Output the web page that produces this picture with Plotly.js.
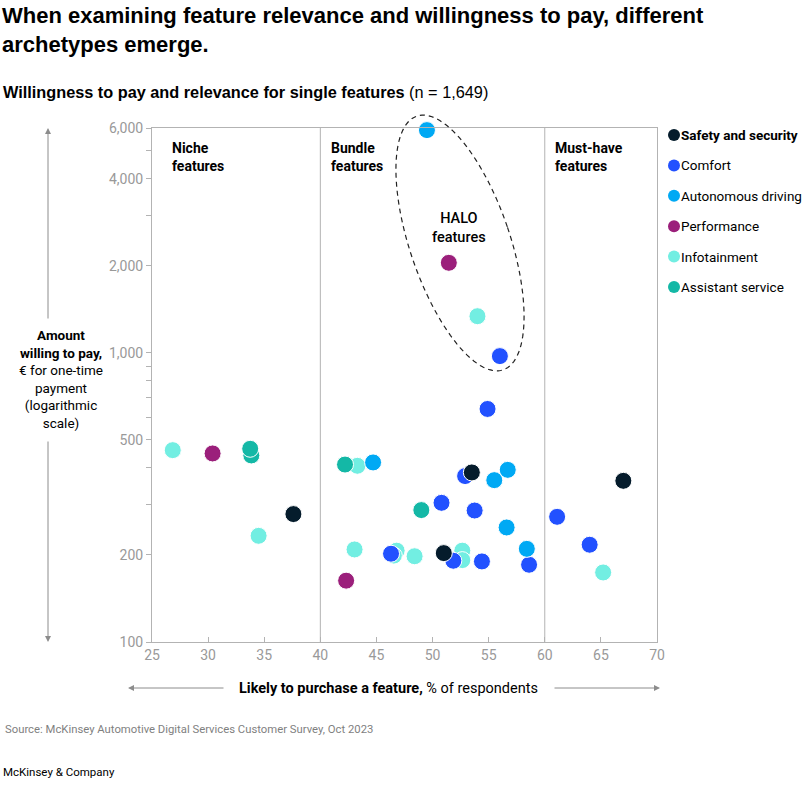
<!DOCTYPE html>
<html>
<head>
<meta charset="utf-8">
<script src="https://cdn.plot.ly/plotly-3.0.1.min.js"></script>
<style>
html,body{margin:0;padding:0;background:#fff;}
#chart{width:810px;height:790px;}
</style>
</head>
<body>
<div id="chart"></div>
<script>
// ---------- DATA ----------
const categories = ['Safety and security','Comfort','Autonomous driving','Performance','Infotainment','Assistant service'];
const colors = ['#051c2c','#2251ff','#00a9f4','#9b1f7b','#72eee2','#14b8a6'];

const safetyX = [37.6, 53.5, 51.0, 67.0];
const safetyY = [277, 386, 203, 361];
const comfortX = [56.0, 54.9, 52.9, 50.8, 53.75, 46.3, 51.85, 54.4, 58.6, 61.1, 64.0];
const comfortY = [975, 640, 375, 303, 285, 202, 191, 190, 185, 271, 217];
const autonomousX = [49.5, 44.7, 55.5, 56.7, 56.6, 58.4];
const autonomousY = [5900, 418, 363, 394, 249, 210];
const performanceX = [30.4, 51.45, 42.3];
const performanceY = [449, 2050, 163];
const infotainmentX = [26.85, 34.5, 43.3, 43.05, 46.8, 46.55, 48.4, 52.65, 52.65, 54.0, 65.2];
const infotainmentY = [461, 233, 407, 209, 207, 199, 198, 207, 192, 1340, 174];
const assistantX = [33.85, 33.75, 42.2, 49.0];
const assistantY = [442, 466, 411, 286];

const xTicks = [25, 30, 35, 40, 45, 50, 55, 60, 65, 70];
const yTickVals = [100, 200, 300, 400, 500, 600, 700, 800, 900, 1000, 2000, 3000, 4000, 5000, 6000];
const yTickText = ['100', '200', '', '', '500', '', '', '', '', '1,000', '2,000', '', '4,000', '', '6,000'];
const segmentBounds = [40, 60];
const segmentLabels = ['<b>Niche</b><br><b>features</b>', '<b>Bundle</b><br><b>features</b>', '<b>Must-have</b><br><b>features</b>'];
const segmentLabelX = [170, 329, 553];

// ---------- LAYOUT HELPERS ----------
const W = 810, H = 790;
const M = {l: 152, r: 153, t: 128, b: 148};
const PW = W - M.l - M.r, PH = H - M.t - M.b;
const PX = p => (p - M.l) / PW;
const PY = p => (H - M.b - p) / PH;
const FONT = 'Roboto, "Liberation Sans", Arial, sans-serif';
const FONT_W = '"Liberation Sans", Arial, sans-serif';

const series = [
  {i: 4, x: infotainmentX, y: infotainmentY},
  {i: 1, x: comfortX, y: comfortY},
  {i: 5, x: assistantX, y: assistantY},
  {i: 2, x: autonomousX, y: autonomousY},
  {i: 3, x: performanceX, y: performanceY},
  {i: 0, x: safetyX, y: safetyY}
];

const traces = series.map(s => ({
  type: 'scatter', mode: 'markers', name: categories[s.i],
  x: s.x, y: s.y, cliponaxis: false, showlegend: false,
  marker: {size: 17, color: colors[s.i], line: {color: '#ffffff', width: 1}},
  hovertemplate: categories[s.i] + '<br>%{x}%, €%{y}<extra></extra>'
}));

const shapes = [];
segmentBounds.forEach(b => shapes.push({type: 'line', xref: 'x', yref: 'paper', x0: b, x1: b, y0: 0, y1: 1, line: {color: '#b3b3b3', width: 1}}));

// HALO ellipse (decoration), rotated ellipse approximated by a path
(function(){
  const cx = 460, cy = 243, a = 134, b = 50, th = 18.8 * Math.PI / 180;
  let d = '';
  for (let k = 0; k <= 120; k++) {
    const t = 2 * Math.PI * k / 120;
    const u = b * Math.cos(t), v = a * Math.sin(t);
    const px = cx + v * (-Math.sin(th)) + u * Math.cos(th);
    const py = cy + v * (-Math.cos(th)) + u * (-Math.sin(th));
    d += (k === 0 ? 'M' : 'L') + PX(px).toFixed(5) + ',' + PY(py).toFixed(5) + ' ';
  }
  d += 'Z';
  shapes.push({type: 'path', xref: 'paper', yref: 'paper', path: d, line: {color: '#222', width: 1.2, dash: '5px,4px'}});
})();

// legend dots
categories.forEach((c, k) => {
  const y = 135 + k * 30.4;
  shapes.push({type: 'circle', xref: 'paper', yref: 'paper',
    x0: PX(674 - 6), x1: PX(674 + 6), y0: PY(y + 6), y1: PY(y - 6),
    fillcolor: colors[k], line: {width: 0}});
});

const annotations = [];
// legend labels
categories.forEach((c, k) => {
  annotations.push({xref: 'paper', yref: 'paper', x: PX(679), y: PY(135 + k * 30.4), xanchor: 'left', yanchor: 'middle',
    text: k === 0 ? '<b>' + c + '</b>' : c, showarrow: false, font: {family: FONT, size: 13.5, color: '#000'}});
});
// segment labels
segmentLabels.forEach((t, k) => {
  annotations.push({xref: 'paper', yref: 'paper', x: PX(segmentLabelX[k]), y: PY(138), xanchor: 'left', yanchor: 'top', align: 'left',
    text: t, showarrow: false, font: {family: FONT, size: 14, color: '#000'}});
});
annotations.push({xref: 'paper', yref: 'paper', x: PX(459), y: PY(228), xanchor: 'center', yanchor: 'middle', align: 'center',
  text: 'HALO<br>features', showarrow: false, font: {family: FONT, size: 14.5, color: '#000', weight: 500}});
// subtitle
annotations.push({xref: 'paper', yref: 'paper', x: PX(1), y: PY(92), xanchor: 'left', yanchor: 'middle',
  text: '<b>Willingness to pay and relevance for single features</b> (n = 1,649)', showarrow: false,
  font: {family: FONT_W, size: 16.3, color: '#000'}});
// y-axis title block
annotations.push({xref: 'paper', yref: 'paper', x: PX(61), y: PY(379), xanchor: 'center', yanchor: 'middle', align: 'center',
  text: '<b>Amount</b><br><b>willing to pay,</b><br>€ for one-time<br>payment<br>(logarithmic<br>scale)',
  showarrow: false, font: {family: FONT, size: 13.5, color: '#000'}});
// x-axis title
annotations.push({xref: 'paper', yref: 'paper', x: PX(388), y: PY(688), xanchor: 'center', yanchor: 'middle',
  text: '<b>Likely to purchase a feature,</b> % of respondents', showarrow: false,
  font: {family: FONT, size: 14.5, color: '#000'}});
// source & footer
annotations.push({xref: 'paper', yref: 'paper', x: PX(3), y: PY(729), xanchor: 'left', yanchor: 'middle',
  text: 'Source: McKinsey Automotive Digital Services Customer Survey, Oct 2023', showarrow: false,
  font: {family: FONT, size: 11.3, color: '#7f7f7f'}});
annotations.push({xref: 'paper', yref: 'paper', x: PX(1), y: PY(772), xanchor: 'left', yanchor: 'middle',
  text: 'McKinsey & Company', showarrow: false, font: {family: FONT, size: 11.5, color: '#000'}});
// arrows
const arr = (hx, hy, dx, dy) => ({xref: 'paper', yref: 'paper', x: PX(hx), y: PY(hy), ax: dx, ay: dy, text: '',
  showarrow: true, arrowhead: 2, arrowsize: 1.2, arrowwidth: 1, arrowcolor: '#8c8c8c', standoff: 0, startstandoff: 0});
annotations.push(arr(128, 688, 97, 0));
annotations.push(arr(660, 688, -107, 0));
annotations.push(arr(48, 128, 0, 192));
annotations.push(arr(48, 642, 0, -202));

const layout = {
  width: W, height: H,
  margin: M,
  paper_bgcolor: '#fff', plot_bgcolor: '#fff',
  showlegend: false,
  title: {text: '<b>When examining feature relevance and willingness to pay, different<br>archetypes emerge.</b>',
    x: 2 / W, xanchor: 'left', xref: 'container', y: 1 - 23 / H, yanchor: 'top', yref: 'container',
    font: {family: FONT_W, size: 22, color: '#000'}},
  xaxis: {range: [25, 70], tickvals: xTicks, ticks: 'inside', ticklen: 5, tickcolor: '#b3b3b3',
    showline: true, linecolor: '#b3b3b3', linewidth: 1, mirror: true, showgrid: false, zeroline: false,
    tickfont: {family: FONT, size: 14, color: '#999'}},
  yaxis: {type: 'log', range: [2, Math.log10(6000)], tickvals: yTickVals, ticktext: yTickText,
    ticks: 'outside', ticklen: 5, tickcolor: '#b3b3b3',
    showline: true, linecolor: '#b3b3b3', linewidth: 1, mirror: true, showgrid: false, zeroline: false,
    tickfont: {family: FONT, size: 14, color: '#999'}},
  shapes: shapes,
  annotations: annotations
};

Plotly.newPlot('chart', traces, layout, {displayModeBar: false, staticPlot: true});
</script>
</body>
</html>
